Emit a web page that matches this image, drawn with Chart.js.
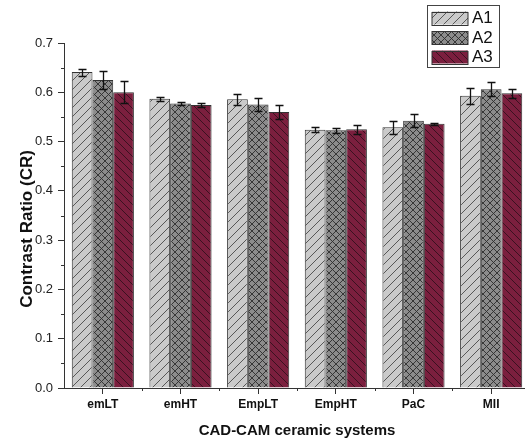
<!DOCTYPE html>
<html>
<head>
<meta charset="utf-8">
<script src="https://cdn.jsdelivr.net/npm/chart.js@4.4.1/dist/chart.umd.min.js"></script>
<style>
  html, body { margin: 0; padding: 0; background: #fff; overflow: hidden; }
  canvas { display: block; }
</style>
</head>
<body>
<canvas id="crChart" width="530" height="443"></canvas>
<script>
// Contrast ratio of CAD-CAM ceramic systems for three groups
const categories = ['emLT', 'emHT', 'EmpLT', 'EmpHT', 'PaC', 'MII'];
const seriesNames = ['A1', 'A2', 'A3'];
const a1Values = [0.641, 0.587, 0.586, 0.524, 0.529, 0.593];
const a2Values = [0.625, 0.577, 0.575, 0.523, 0.542, 0.606];
const a3Values = [0.600, 0.574, 0.560, 0.525, 0.536, 0.598];
const a1Errors = [0.007, 0.004, 0.011, 0.005, 0.013, 0.016];
const a2Errors = [0.018, 0.003, 0.013, 0.005, 0.013, 0.014];
const a3Errors = [0.022, 0.004, 0.015, 0.009, 0.002, 0.009];
const yTicks = [0, 0.1, 0.2, 0.3, 0.4, 0.5, 0.6, 0.7];
const yTitle = 'Contrast Ratio (CR)';

const FONT = '"Liberation Sans", Arial, sans-serif';
const AXIS = '#333333';

// Hatched fills for the bars
function hatch(fill, ink, kind, s) {
  const c = document.createElement('canvas');
  c.width = s; c.height = s;
  const g = c.getContext('2d');
  g.fillStyle = fill;
  g.fillRect(0, 0, s, s);
  g.strokeStyle = ink;
  g.lineWidth = 0.9;
  const fwd = () => {
    g.beginPath();
    g.moveTo(-1, s + 1); g.lineTo(s + 1, -1);
    g.moveTo(-1, 1); g.lineTo(1, -1);
    g.moveTo(s - 1, s + 1); g.lineTo(s + 1, s - 1);
    g.stroke();
  };
  const back = () => {
    g.beginPath();
    g.moveTo(-1, -1); g.lineTo(s + 1, s + 1);
    g.moveTo(s - 1, -1); g.lineTo(s + 1, 1);
    g.moveTo(-1, s - 1); g.lineTo(1, s + 1);
    g.stroke();
  };
  if (kind === 'fwd') fwd();
  if (kind === 'back') back();
  if (kind === 'cross') { fwd(); back(); }
  return g.createPattern(c, 'repeat');
}

const fills = [
  hatch('#cacaca', '#4a4a4a', 'fwd', 9),
  hatch('#8c8c8c', '#2e2e2e', 'cross', 7),
  hatch('#7b1f3e', '#33101d', 'back', 8)
];
const seriesValues = [a1Values, a2Values, a3Values];
const seriesErrors = [a1Errors, a2Errors, a3Errors];

// Error bars with caps
const errorBars = {
  id: 'errorBars',
  afterDatasetsDraw(chart) {
    const { ctx, scales: { y } } = chart;
    ctx.save();
    ctx.strokeStyle = '#111';
    ctx.lineWidth = 1.3;
    chart.data.datasets.forEach((ds, di) => {
      const meta = chart.getDatasetMeta(di);
      meta.data.forEach((bar, i) => {
        const v = ds.data[i], e = seriesErrors[di][i];
        const yt = Math.round(y.getPixelForValue(v + e)) + 0.5;
        const yb = Math.round(y.getPixelForValue(v - e)) + 0.5;
        const x = Math.round(bar.x) + 0.5;
        ctx.beginPath();
        ctx.moveTo(x, yt); ctx.lineTo(x, yb);
        ctx.moveTo(x - 4, yt); ctx.lineTo(x + 4, yt);
        ctx.moveTo(x - 4, yb); ctx.lineTo(x + 4, yb);
        ctx.stroke();
      });
    });
    ctx.restore();
  }
};

// Minor ticks on both axes, plus the vertical axis title
const axisExtras = {
  id: 'axisExtras',
  afterDraw(chart) {
    const { ctx, chartArea: a, scales: { x, y } } = chart;
    ctx.save();
    ctx.strokeStyle = AXIS;
    ctx.lineWidth = 1;
    ctx.beginPath();
    for (let k = 0; k < yTicks.length - 1; k++) {
      const py = Math.round(y.getPixelForValue((yTicks[k] + yTicks[k + 1]) / 2)) + 0.5;
      ctx.moveTo(a.left - 3, py); ctx.lineTo(a.left, py);
    }
    for (let i = 1; i < categories.length; i++) {
      const px = Math.round((x.getPixelForValue(i - 1) + x.getPixelForValue(i)) / 2) + 0.5;
      ctx.moveTo(px, a.bottom); ctx.lineTo(px, a.bottom + 3);
    }
    ctx.stroke();

    ctx.translate(27.5, 229);
    ctx.rotate(-Math.PI / 2);
    ctx.fillStyle = '#111';
    ctx.font = 'bold 17px ' + FONT;
    ctx.textAlign = 'center';
    ctx.textBaseline = 'middle';
    ctx.fillText(yTitle, 0, 0);
    ctx.restore();
  }
};

// Boxed legend in the upper right
const boxLegend = {
  id: 'boxLegend',
  afterDraw(chart) {
    const { ctx } = chart;
    ctx.save();
    ctx.fillStyle = '#fff';
    ctx.fillRect(427.5, 5.5, 72, 62);
    ctx.strokeStyle = '#444';
    ctx.lineWidth = 1;
    ctx.strokeRect(427.5, 5.5, 72, 62);
    chart.data.datasets.forEach((ds, i) => {
      const top = 11.5 + i * 19.5;
      ctx.fillStyle = ds.backgroundColor;
      ctx.fillRect(432, top, 36, 13);
      ctx.strokeStyle = '#333';
      ctx.strokeRect(432, Math.round(top) + 0.5, 36, 13);
      ctx.fillStyle = '#111';
      ctx.font = '17px ' + FONT;
      ctx.textBaseline = 'middle';
      ctx.textAlign = 'left';
      ctx.fillText(ds.label, 472, top + 7);
    });
    ctx.restore();
  }
};

new Chart(document.getElementById('crChart'), {
  type: 'bar',
  data: {
    labels: categories,
    datasets: seriesNames.map((name, i) => ({
      label: name,
      data: seriesValues[i],
      backgroundColor: fills[i],
      borderColor: '#333',
      borderWidth: 1,
      borderSkipped: 'start',
      categoryPercentage: 0.8,
      barPercentage: 1.0
    }))
  },
  options: {
    responsive: false,
    animation: false,
    devicePixelRatio: 1,
    layout: { padding: { top: 43, right: 0, bottom: 0, left: 0 } },
    plugins: { legend: { display: false }, tooltip: { enabled: false } },
    scales: {
      x: {
        afterFit(s) { s.height = 55; },
        grid: { display: true, drawOnChartArea: false, offset: false, tickLength: 6, color: AXIS, tickColor: AXIS },
        border: { display: true, color: AXIS, width: 1 },
        ticks: { color: '#111', padding: 3, font: { family: FONT, size: 12, weight: 'bold' } },
        title: { display: true, text: 'CAD-CAM ceramic systems', color: '#111',
                 padding: { top: 0, bottom: 3 }, font: { family: FONT, size: 15, weight: 'bold' } }
      },
      y: {
        min: 0, max: 0.7,
        afterFit(s) { s.width = 64; },
        afterBuildTicks(s) { s.ticks = yTicks.map(v => ({ value: v })); },
        grid: { display: true, drawOnChartArea: false, tickLength: 6, color: AXIS, tickColor: AXIS },
        border: { display: true, color: AXIS, width: 1 },
        ticks: { color: '#222', padding: 5, font: { family: FONT, size: 13 },
                 callback: v => Number(v).toFixed(1) },
        title: { display: false }
      }
    }
  },
  plugins: [errorBars, axisExtras, boxLegend]
});
</script>
</body>
</html>
